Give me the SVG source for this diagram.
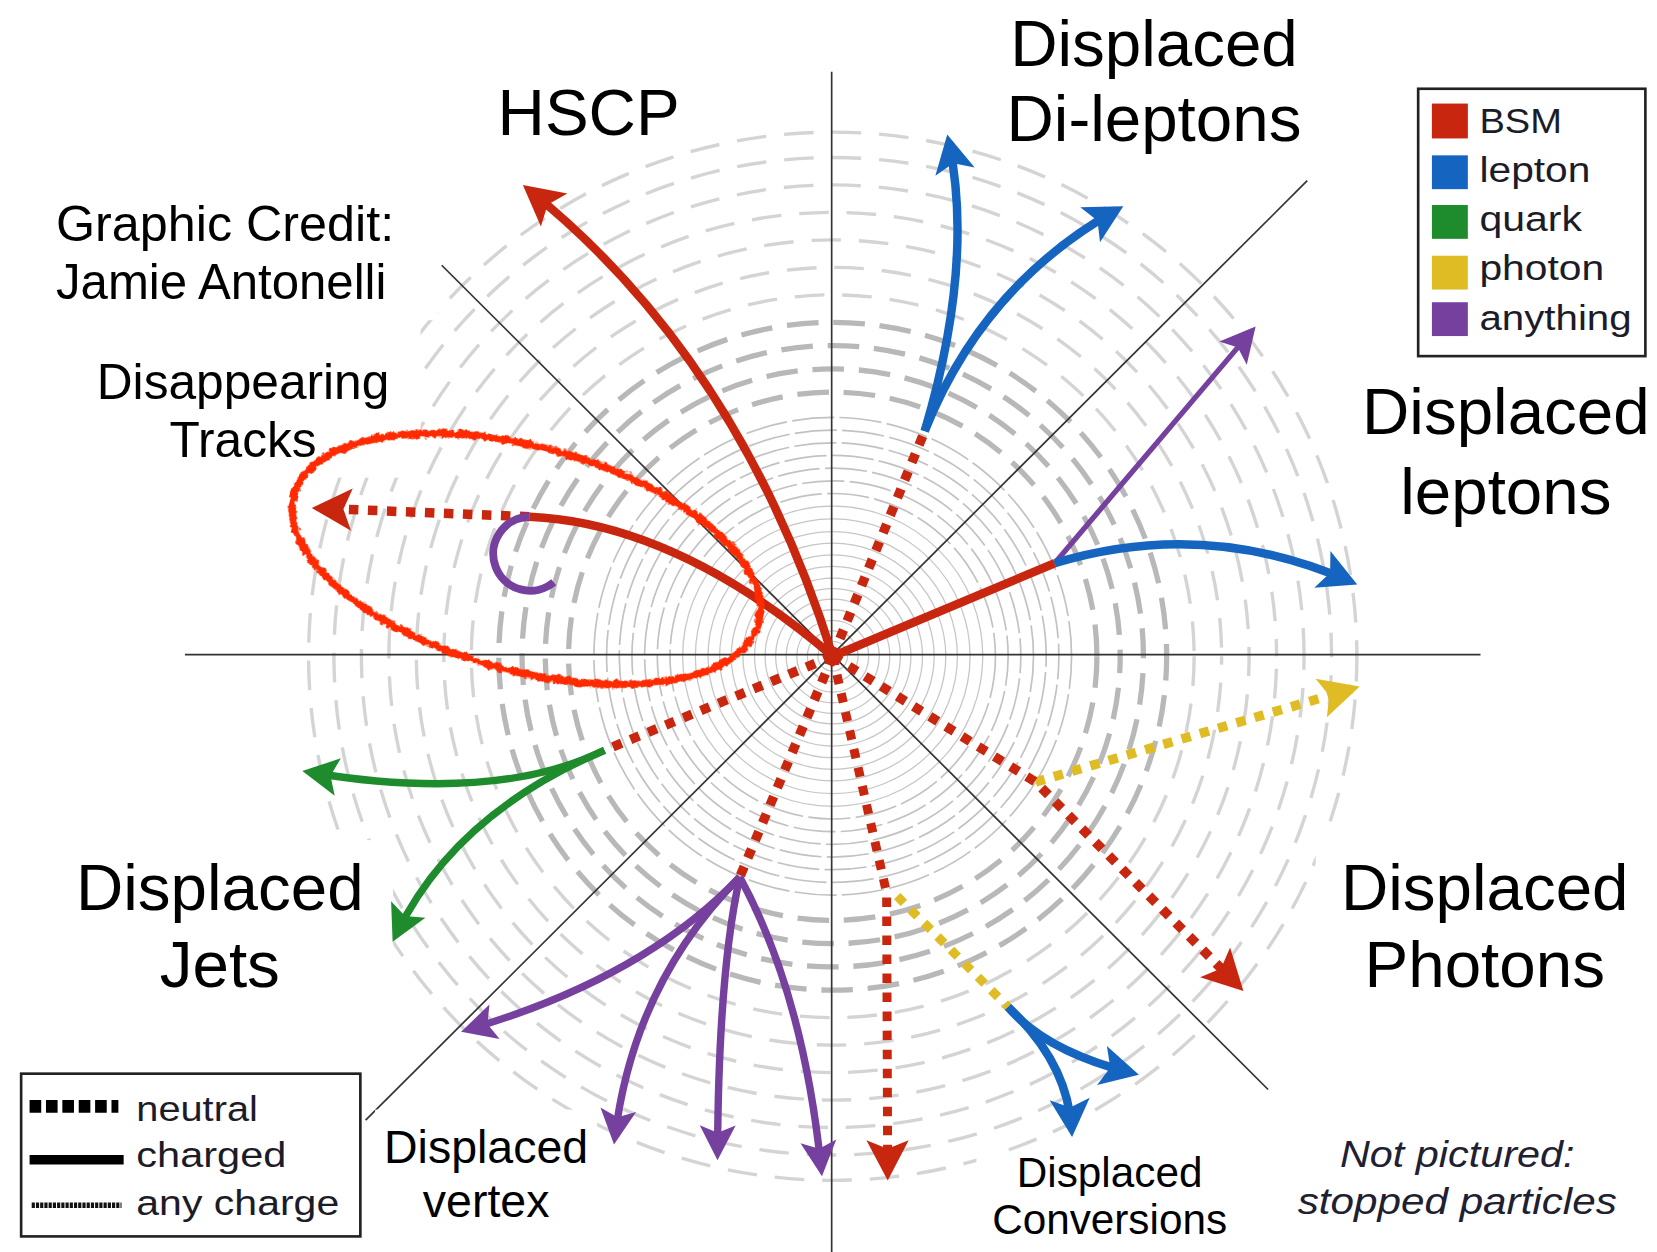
<svg xmlns="http://www.w3.org/2000/svg" width="1657" height="1252" viewBox="0 0 1657 1252">
<style>
.lbl{font-family:"Liberation Sans",Arial,Helvetica,sans-serif;fill:#000;text-anchor:middle}
.big{font-size:62px}
.mid{font-size:47px}
.sm{font-size:44px}
.xs{font-size:40px}
.leg{font-family:"Liberation Sans",Arial,Helvetica,sans-serif;font-size:34px;fill:#1c1c28}
.axis{stroke:#333;stroke-width:1.6;fill:none}
.ri{fill:none;stroke:#c6c6c6;stroke-width:1.2}
.rm{fill:none;stroke:#c2c2c2;stroke-width:1.6;stroke-dasharray:40 5}
.rt{fill:none;stroke:#b8b8b8;stroke-width:5;stroke-dasharray:30 14}
.ro{fill:none;stroke:#d4d4d4;stroke-width:3.2;stroke-dasharray:28 17}
.red{stroke:#c8260e;fill:none}
.blue{stroke:#1565c0;fill:none;stroke-width:8}
.green{stroke:#1e8c2c;fill:none;stroke-width:7}
.yel{stroke:#e0bc24;fill:none}
.pur{stroke:#76409e;fill:none;stroke-width:7}
.solid{stroke-width:8}
.dot{stroke-width:9;stroke-dasharray:9 9}
.bg{fill:#fff}
</style>
<defs>
<marker id="mR" viewBox="-45 -25 55 50" markerWidth="55" markerHeight="50" refX="0" refY="0" orient="auto" markerUnits="userSpaceOnUse"><path d="M8,0 L-30,-20 L-22,0 L-30,20 Z" fill="#c8260e"/></marker>
<marker id="mB" viewBox="-45 -25 55 50" markerWidth="55" markerHeight="50" refX="0" refY="0" orient="auto" markerUnits="userSpaceOnUse"><path d="M8,0 L-28,-19 L-20,0 L-28,19 Z" fill="#1565c0"/></marker>
<marker id="mY" viewBox="-45 -25 55 50" markerWidth="55" markerHeight="50" refX="0" refY="0" orient="auto" markerUnits="userSpaceOnUse"><path d="M8,0 L-30,-19 L-22,0 L-30,19 Z" fill="#e0bc24"/></marker>
<marker id="mP" viewBox="-45 -25 55 50" markerWidth="55" markerHeight="50" refX="0" refY="0" orient="auto" markerUnits="userSpaceOnUse"><path d="M8,0 L-25,-17 L-18,0 L-25,17 Z" fill="#76409e"/></marker>
<marker id="mG" viewBox="-45 -25 55 50" markerWidth="55" markerHeight="50" refX="0" refY="0" orient="auto" markerUnits="userSpaceOnUse"><path d="M8,0 L-26,-18 L-19,0 L-26,18 Z" fill="#1e8c2c"/></marker>
<filter id="rough" x="-10%" y="-20%" width="120%" height="140%">
<feTurbulence type="fractalNoise" baseFrequency="0.2" numOctaves="2" seed="3" result="n"/>
<feDisplacementMap in="SourceGraphic" in2="n" scale="6" xChannelSelector="R" yChannelSelector="G"/>
</filter>
</defs>
<rect x="0" y="0" width="1657" height="1252" fill="#fff"/>
<g transform="scale(1.05676)">
<g id="detector-rings">
<g class="ri">
<circle cx="788" cy="621" r="14"/><circle cx="788" cy="621" r="24"/><circle cx="788" cy="621" r="34"/><circle cx="788" cy="621" r="44"/><circle cx="788" cy="621" r="54"/><circle cx="788" cy="621" r="64"/><circle cx="788" cy="621" r="74"/><circle cx="788" cy="621" r="85"/><circle cx="788" cy="621" r="96"/><circle cx="788" cy="621" r="107"/><circle cx="788" cy="621" r="118"/><circle cx="788" cy="621" r="130"/><circle cx="788" cy="621" r="142"/>
</g>
<g class="rm">
<circle cx="788" cy="621" r="154"/><circle cx="788" cy="621" r="166" stroke-dashoffset="12"/><circle cx="788" cy="621" r="178" stroke-dashoffset="24"/><circle cx="788" cy="621" r="190" stroke-dashoffset="6"/><circle cx="788" cy="621" r="202" stroke-dashoffset="30"/><circle cx="788" cy="621" r="214" stroke-dashoffset="18"/><circle cx="788" cy="621" r="226" stroke-dashoffset="9"/>
</g>
<g class="rt">
<circle cx="788" cy="621" r="250"/><circle cx="788" cy="621" r="272" stroke-dashoffset="14"/><circle cx="788" cy="621" r="294" stroke-dashoffset="28"/><circle cx="788" cy="621" r="316" stroke-dashoffset="7"/>
</g>
<g class="ro">
<circle cx="788" cy="621" r="342"/><circle cx="788" cy="621" r="368" stroke-dashoffset="20"/><circle cx="788" cy="621" r="394" stroke-dashoffset="9"/><circle cx="788" cy="621" r="420" stroke-dashoffset="33"/><circle cx="788" cy="621" r="446" stroke-dashoffset="15"/><circle cx="788" cy="621" r="472" stroke-dashoffset="27"/><circle cx="788" cy="621" r="496" stroke-dashoffset="4"/>
</g>
</g>
<g id="axes">
<line class="axis" x1="175" y1="619.5" x2="1401" y2="619.5"/>
<line class="axis" x1="787" y1="68" x2="787" y2="1190"/>
<line class="axis" x1="418" y1="251" x2="1200" y2="1031"/>
<line class="axis" x1="1237" y1="171" x2="346" y2="1060"/>
</g>
<g id="label-backgrounds">
<rect class="bg" x="0" y="0" width="398" height="452"/>
<rect class="bg" x="0" y="0" width="415" height="303"/>
<rect class="bg" x="0" y="795" width="372" height="205"/>
<rect class="bg" x="355" y="1050" width="210" height="140"/>
<rect class="bg" x="924" y="1091" width="256" height="100"/>
<rect class="bg" x="1245" y="793" width="412" height="207"/>
</g>
<g id="labels">
<g id="lbl-hscp"><text class="lbl big" x="557" y="128">HSCP</text></g>
<g id="lbl-dileptons"><text class="lbl big" x="1092" y="62">Displaced</text><text class="lbl big" x="1092" y="133">Di-leptons</text></g>
<g id="lbl-credit"><text class="lbl" style="text-anchor:start;font-size:46.5px" x="53" y="228" textLength="320" lengthAdjust="spacingAndGlyphs">Graphic Credit:</text><text class="lbl" style="text-anchor:start;font-size:46.5px" x="53" y="283">Jamie Antonelli</text></g>
<g id="lbl-disappearing"><text class="lbl mid" x="230" y="378">Disappearing</text><text class="lbl mid" x="230" y="432">Tracks</text></g>
<g id="lbl-leptons"><text class="lbl big" x="1425" y="411">Displaced</text><text class="lbl big" x="1425" y="486">leptons</text></g>
<g id="lbl-jets"><text class="lbl big" x="208" y="861">Displaced</text><text class="lbl big" x="208" y="934">Jets</text></g>
<g id="lbl-photons"><text class="lbl big" x="1405" y="861">Displaced</text><text class="lbl big" x="1405" y="934">Photons</text></g>
<g id="lbl-vertex"><text class="lbl sm" x="460" y="1101">Displaced</text><text class="lbl sm" x="460" y="1152">vertex</text></g>
<g id="lbl-conversions"><text class="lbl xs" x="1050" y="1123">Displaced</text><text class="lbl xs" x="1050" y="1168">Conversions</text></g>
<g id="lbl-notpictured"><text class="lbl" style="font-size:35px;font-style:italic;fill:#202030" x="1379" y="1104" textLength="222" lengthAdjust="spacingAndGlyphs">Not pictured:</text><text class="lbl" style="font-size:35px;font-style:italic;fill:#202030" x="1379" y="1149" textLength="302" lengthAdjust="spacingAndGlyphs">stopped particles</text></g>
</g>
<g id="connectors">
<path class="red solid" d="M788,621 Q700,340 501,180" marker-end="url(#mR)"/>
<path class="red solid" d="M788,621 Q640,495 501,489"/>
<path class="red dot" d="M501,489 L303,481" marker-end="url(#mR)"/>
<path class="pur" style="stroke-width:7.5" d="M501,489 A35,35 0 1,0 524,551"/>
<path class="red dot" d="M788,621 L875,408"/>
<path class="blue" d="M875,408 Q922,250 898,135" marker-end="url(#mB)"/>
<path class="blue" d="M875,408 Q930,270 1056,199" marker-end="url(#mB)"/>
<path class="red solid" d="M788,621 L998,533"/>
<path class="pur" style="stroke-width:5" d="M998,533 L1183,315" marker-end="url(#mP)"/>
<path class="blue" d="M998,533 Q1140,490 1277,550" marker-end="url(#mB)"/>
<path class="yel dot" d="M980,740 L1279,652" marker-end="url(#mY)"/>
<path class="red dot" d="M788,621 L980,740 L1171,932" marker-end="url(#mR)"/>
<path class="yel dot" style="stroke-width:8.5" d="M849,848 L954,953"/>
<path class="red dot" style="stroke-width:8.5" d="M788,621 L839,845 L840,1109" marker-end="url(#mR)"/>
<path class="blue" d="M954,953 Q990,995 1070,1015" marker-end="url(#mB)"/>
<path class="blue" d="M954,953 Q1010,1005 1014,1068" marker-end="url(#mB)"/>
<path class="red dot" d="M788,621 L700,830"/>
<path class="pur" d="M700,830 Q610,925 444,974" marker-end="url(#mP)"/>
<path class="pur" d="M700,830 Q600,930 582,1075" marker-end="url(#mP)"/>
<path class="pur" d="M700,830 Q680,920 679,1090" marker-end="url(#mP)"/>
<path class="pur" d="M700,830 Q760,940 777,1105" marker-end="url(#mP)"/>
<path class="red dot" d="M788,621 L572,710"/>
<path class="green" d="M572,710 Q470,760 294,731" marker-end="url(#mG)"/>
<path class="green" d="M572,710 Q430,770 375,884" marker-end="url(#mG)"/>
<circle cx="788" cy="621" r="6" fill="#c8260e"/>
</g>
<g id="highlight-ellipse">
<ellipse cx="498" cy="529" rx="228" ry="106" transform="rotate(15.4 498 529)" fill="none" stroke="#ff2a00" stroke-width="7" filter="url(#rough)"/>
</g>
<g id="legend-colors">
<rect x="1342" y="84" width="215" height="253" fill="#fff" stroke="#222" stroke-width="2.5"/>
<rect x="1355" y="98" width="34" height="33" fill="#c8260e"/>
<rect x="1355" y="147" width="34" height="32" fill="#1565c0"/>
<rect x="1355" y="194" width="34" height="32" fill="#1e8c2c"/>
<rect x="1355" y="242" width="34" height="32" fill="#dfbc24"/>
<rect x="1355" y="286" width="34" height="32" fill="#76409e"/>
<text class="leg" x="1400" y="126" textLength="78" lengthAdjust="spacingAndGlyphs">BSM</text>
<text class="leg" x="1400" y="172" textLength="105" lengthAdjust="spacingAndGlyphs">lepton</text>
<text class="leg" x="1400" y="219" textLength="97" lengthAdjust="spacingAndGlyphs">quark</text>
<text class="leg" x="1400" y="265" textLength="118" lengthAdjust="spacingAndGlyphs">photon</text>
<text class="leg" x="1400" y="312" textLength="144" lengthAdjust="spacingAndGlyphs">anything</text>
</g>
<g id="legend-lines">
<rect x="20" y="1016" width="321" height="154" fill="#fff" stroke="#222" stroke-width="2.5"/>
<line x1="28" y1="1047" x2="112" y2="1047" stroke="#000" stroke-width="12" stroke-dasharray="11 4.5"/>
<line x1="28" y1="1097.5" x2="117" y2="1097.5" stroke="#000" stroke-width="9"/>
<line x1="30" y1="1140.5" x2="115" y2="1140.5" stroke="#111" stroke-width="5" stroke-dasharray="3 1"/>
<text class="leg" x="129" y="1061" textLength="115" lengthAdjust="spacingAndGlyphs">neutral</text>
<text class="leg" x="129" y="1104" textLength="142" lengthAdjust="spacingAndGlyphs">charged</text>
<text class="leg" x="129" y="1150" textLength="192" lengthAdjust="spacingAndGlyphs">any charge</text>
</g>
</g>
</svg>
